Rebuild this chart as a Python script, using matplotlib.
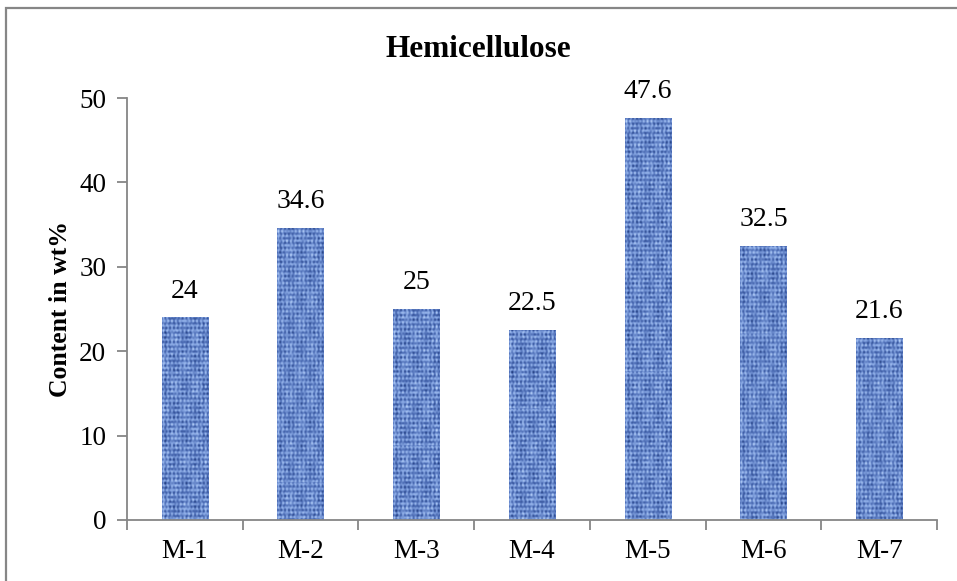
import numpy as np
import matplotlib.pyplot as plt
from matplotlib.patches import Rectangle
from matplotlib.colors import LinearSegmentedColormap

# Hemicellulose content per sample
samples = ["M-1", "M-2", "M-3", "M-4", "M-5", "M-6", "M-7"]
hemicellulose = [24, 34.6, 25, 22.5, 47.6, 32.5, 21.6]
yticks = [0, 10, 20, 30, 40, 50]

plt.rcParams["font.family"] = ["Liberation Serif", "DejaVu Serif"]

fig = plt.figure(figsize=(9.57, 5.81), dpi=100)
ax = fig.add_axes([0.1327, 0.105, 0.8464, 0.7263])

x = np.arange(len(samples))
bars = ax.bar(x, hemicellulose, width=0.4, color="#6f8fd2", linewidth=0)

# woven "denim" fill for the bars
denim = LinearSegmentedColormap.from_list(
    "denim", ["#233f80", "#4c6cb4", "#86a6e2", "#b9d2f7"])
ii, jj = np.mgrid[0:440, 0:48]
weave = (0.5
         + 0.22 * np.sin(2 * np.pi * jj / 4.3) * (0.6 + 0.4 * np.sin(ii * 0.41) * np.cos(jj * 0.23))
         + 0.22 * np.sin(2 * np.pi * ii / 4.7) * (0.6 + 0.4 * np.sin(jj * 0.53) * np.cos(ii * 0.17))
         + 0.13 * np.sin(ii * 0.91) * np.sin(jj * 1.73 + 0.4)
         + 0.08 * np.sin(ii * 0.13) * np.sin(jj * 0.29 + 1.0))
for k, b in enumerate(bars):
    x0, w, h = b.get_x(), b.get_width(), b.get_height()
    rows = int(round(h * 8.44))
    tex = np.roll(weave, 37 * k, axis=0)[:rows][::-1]
    im = ax.imshow(tex, cmap=denim, extent=(x0, x0 + w, 0, h), aspect="auto",
                   interpolation="bilinear", vmin=0, vmax=1, zorder=2)
    im.set_clip_path(b)

for xi, v in zip(x, hemicellulose):
    ax.annotate(f"{v:g}", (xi, v), xytext=(0, 10), textcoords="offset points",
                ha="center", va="bottom", fontsize=20)

ax.set_xlim(-0.5, len(samples) - 0.5)
ax.set_ylim(0, 50)
ax.set_yticks(yticks)
ax.set_xticks(x)
ax.set_xticklabels(samples, fontsize=19.5)
ax.tick_params(axis="x", length=0, pad=14)
ax.set_xticks(np.arange(-0.5, len(samples)), minor=True)
ax.tick_params(axis="x", which="minor", length=7, direction="out",
               color="#868686", width=1.3)
ax.tick_params(axis="y", labelsize=19.5, length=7, color="#868686",
               width=1.3, pad=8)

for side in ["top", "right"]:
    ax.spines[side].set_visible(False)
for side in ["left", "bottom"]:
    ax.spines[side].set_color("#868686")
    ax.spines[side].set_linewidth(1.3)
    ax.spines[side].set_zorder(3)

ax.set_ylabel("Content in wt%", fontsize=18.5, fontweight="bold", labelpad=5)
fig.text(0.5, 0.915, "Hemicellulose", ha="center", va="center",
         fontsize=22.5, fontweight="bold")

# chart area frame
fig.patches.append(Rectangle((5.5 / 957, -0.1), 1.2, (581 - 7.5) / 581 + 0.1,
                             transform=fig.transFigure, fill=False,
                             edgecolor="#868686", linewidth=1.6))

fig.savefig("out.png", dpi=100)
